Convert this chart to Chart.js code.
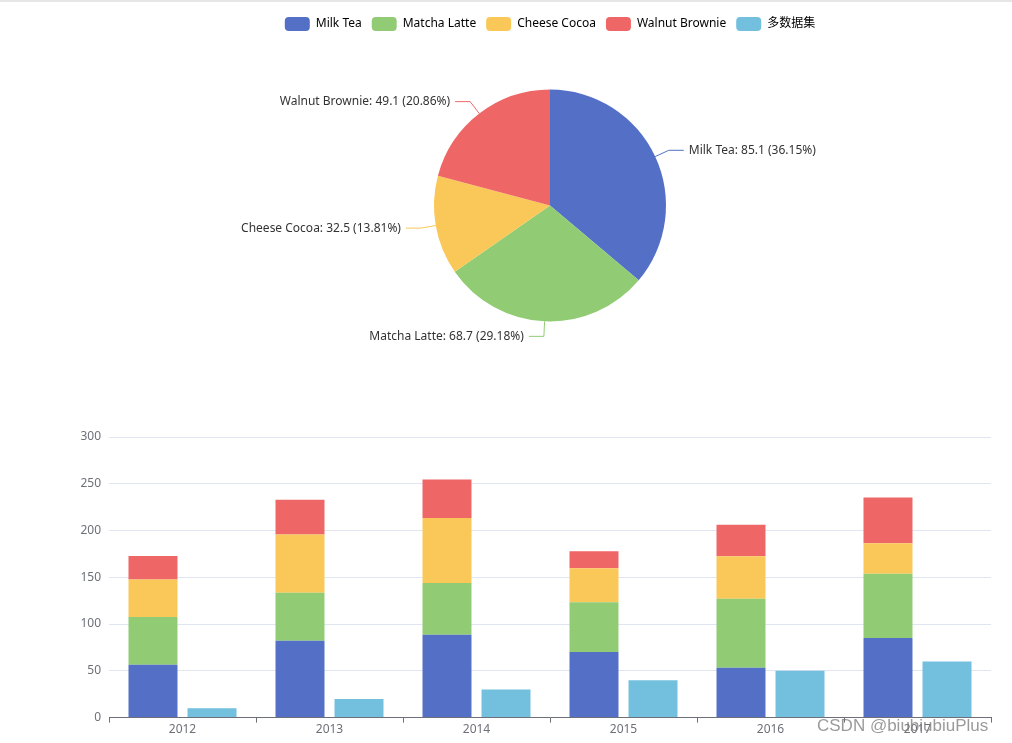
<!DOCTYPE html>
<html>
<head>
<meta charset="utf-8">
<script src="https://cdn.jsdelivr.net/npm/chart.js@4/dist/chart.umd.min.js"></script>
<style>
  html, body { margin: 0; padding: 0; background: #fff; }
  body { width: 1012px; height: 743px; position: relative; overflow: hidden; }
  .topline { position: absolute; left: 0; top: 0; width: 1012px; height: 2px; background: #e6e6e6; }
  #pieBox { position: absolute; left: 0; top: 0; width: 1012px; height: 370px; }
  #barBox { position: absolute; left: 0; top: 400px; width: 1012px; height: 343px; }
  .mark { position: absolute; left: 817px; top: 716px; font: 17px "Liberation Sans", Arial, sans-serif;
          color: rgba(120, 120, 120, 0.75); white-space: nowrap; }
</style>
</head>
<body>
<div class="topline"></div>
<div id="pieBox"><canvas id="pie"></canvas></div>
<div id="barBox"><canvas id="bar"></canvas></div>
<div class="mark">CSDN @biubiubiuPlus</div>
<script>
const years = ["2012", "2013", "2014", "2015", "2016", "2017"];
const seriesNames = ["Milk Tea", "Matcha Latte", "Cheese Cocoa", "Walnut Brownie", "多数据集"];
const milkTea = [56.5, 82.1, 88.7, 70.1, 53.4, 85.1];
const matchaLatte = [51.1, 51.4, 55.1, 53.3, 73.8, 68.7];
const cheeseCocoa = [40.1, 62.2, 69.5, 36.4, 45.2, 32.5];
const walnutBrownie = [25.2, 37.1, 41.2, 18, 33.9, 49.1];
const extraSet = [10, 20, 30, 40, 50, 60];
// pie shows the 2017 column
const pieValues = [85.1, 68.7, 32.5, 49.1];
const yTicks = [0, 50, 100, 150, 200, 250, 300];

const colors = ["#5470c6", "#91cc75", "#fac858", "#ee6666", "#73c0de"];
const FONT = "'Noto Sans', 'Noto Sans CJK SC', sans-serif";
const TEXT = "#6e7079";

Chart.defaults.font.family = FONT;
Chart.defaults.font.size = 12;
Chart.defaults.animation = false;

// outside labels with leader lines for the pie slices
const pieLabels = {
  id: "pieLabels",
  afterDraw(chart) {
    const ctx = chart.ctx;
    const meta = chart.getDatasetMeta(0);
    const data = chart.data.datasets[0].data;
    const total = data.reduce((a, b) => a + b, 0);
    meta.data.forEach((arc, i) => {
      const p = arc.getProps(["x", "y", "startAngle", "endAngle", "outerRadius"], true);
      const mid = (p.startAngle + p.endAngle) / 2;
      const cos = Math.cos(mid), sin = Math.sin(mid);
      const x0 = p.x + cos * p.outerRadius, y0 = p.y + sin * p.outerRadius;
      const x1 = p.x + cos * (p.outerRadius + 15), y1 = p.y + sin * (p.outerRadius + 15);
      const dir = cos >= 0 ? 1 : -1;
      const x2 = x1 + dir * 15;
      ctx.save();
      ctx.strokeStyle = colors[i];
      ctx.lineWidth = 1;
      ctx.beginPath();
      ctx.moveTo(x0, y0);
      ctx.lineTo(x1, y1);
      ctx.lineTo(x2, y1);
      ctx.stroke();
      const pct = (data[i] / total * 100).toFixed(2);
      ctx.fillStyle = "#333";
      ctx.font = "12px " + FONT;
      ctx.textBaseline = "middle";
      ctx.textAlign = dir > 0 ? "left" : "right";
      ctx.fillText(chart.data.labels[i] + ": " + data[i] + " (" + pct + "%)", x2 + dir * 5, y1);
      ctx.restore();
    });
  }
};

new Chart(document.getElementById("pie"), {
  type: "pie",
  data: {
    labels: seriesNames.slice(0, 4),
    datasets: [{
      data: pieValues,
      backgroundColor: colors.slice(0, 4),
      borderWidth: 0,
      radius: 116
    }]
  },
  options: {
    responsive: true,
    maintainAspectRatio: false,
    layout: { padding: { top: 7, left: 88, right: 0, bottom: 0 } },
    plugins: {
      tooltip: { enabled: false },
      legend: {
        position: "top",
        onClick: null,
        labels: {
          boxWidth: 25,
          boxHeight: 14,
          padding: 10,
          color: "#333",
          useBorderRadius: true,
          borderRadius: 4,
          generateLabels: () => seriesNames.map((n, i) => ({
            text: n, fillStyle: colors[i], strokeStyle: colors[i], lineWidth: 0,
            hidden: false, index: i, borderRadius: 4
          }))
        }
      }
    }
  },
  plugins: [pieLabels]
});

const barSeries = [milkTea, matchaLatte, cheeseCocoa, walnutBrownie, extraSet];

new Chart(document.getElementById("bar"), {
  type: "bar",
  data: {
    labels: years,
    datasets: barSeries.map((d, i) => ({
      label: seriesNames[i],
      data: d,
      backgroundColor: colors[i],
      stack: i < 4 ? "a" : "b",
      categoryPercentage: 0.803,
      barPercentage: 0.83
    }))
  },
  options: {
    responsive: true,
    maintainAspectRatio: false,
    layout: { padding: { top: 37, left: 0, right: 21, bottom: 6 } },
    plugins: { legend: { display: false }, tooltip: { enabled: false } },
    scales: {
      x: {
        stacked: true,
        grid: { offset: true, drawOnChartArea: false, drawTicks: true, tickLength: 5, color: TEXT },
        border: { display: true, color: TEXT },
        ticks: { color: TEXT, padding: 0 }
      },
      y: {
        stacked: true,
        min: 0,
        max: 300,
        afterFit(scale) { scale.width = 109; },
        afterBuildTicks(scale) { scale.ticks = yTicks.map(v => ({ value: v })); },
        grid: { color: "#e0e6f1", drawTicks: false },
        border: { display: false },
        ticks: { color: TEXT, padding: 8 }
      }
    }
  }
});
</script>
</body>
</html>
